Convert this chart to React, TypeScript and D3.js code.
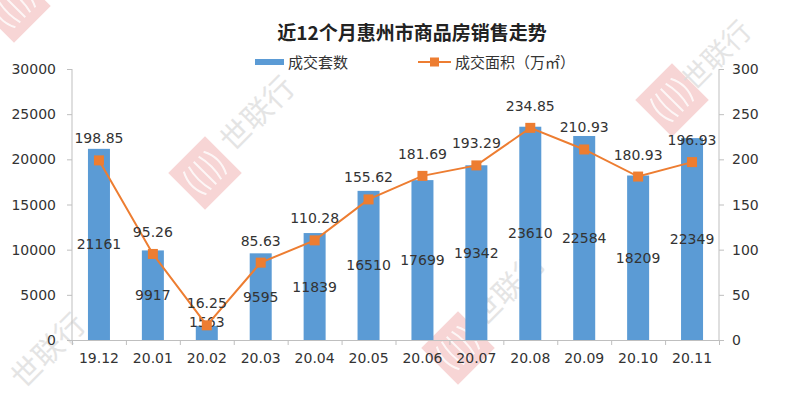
import React from "react";
import * as d3 from "d3";

const months = ["19.12","20.01","20.02","20.03","20.04","20.05","20.06","20.07","20.08","20.09","20.10","20.11"];
const counts = [21161, 9917, 1563, 9595, 11839, 16510, 17699, 19342, 23610, 22584, 18209, 22349];
const areas = [198.85, 95.26, 16.25, 85.63, 110.28, 155.62, 181.69, 193.29, 234.85, 210.93, 180.93, 196.93];
const leftTicks = [0, 5000, 10000, 15000, 20000, 25000, 30000];
const rightTicks = [0, 50, 100, 150, 200, 250, 300];
const title = "近12个月惠州市商品房销售走势";
const legendBar = "成交套数";
const legendLine = "成交面积（万㎡）";
const watermarkText = "世联行";

const W = 785, H = 399;
const L = 72, R = 719, T = 69, B = 340;
const FONT = "'DejaVu Sans', sans-serif";
const TXT = "#333";
const AX = "#bfbfbf";

function Diamond({ cx, cy }: { cx: number; cy: number }) {
  const s = 52;
  return (
    <g>
      <g transform={`translate(${cx},${cy}) rotate(45)`}>
        <rect x={-s / 2} y={-s / 2} width={s} height={s} fill="#f3c3c3" opacity={0.7} />
      </g>
      <g transform={`translate(${cx},${cy}) rotate(-45)`} opacity={0.8}>
        {[-14, -7, 0, 7, 14].map((o, i) => (
          <path key={i} d={`M ${o} -16 Q ${o * 1.6} 0 ${o} 16`} stroke="#fff" strokeWidth={2} fill="none" />
        ))}
      </g>
    </g>
  );
}

function WText({ x, y, size = 30 }: { x: number; y: number; size?: number }) {
  return (
    <text transform={`translate(${x},${y}) rotate(-45)`} fontSize={size} fill="#dcdcdc" fontFamily="'Noto Sans CJK SC', sans-serif" opacity={0.75}>{watermarkText}</text>
  );
}

export default function App() {
  const x = d3.scaleBand<string>().domain(months).range([L, R]).paddingInner(0).paddingOuter(0);
  const yL = d3.scaleLinear().domain([0, 30000]).range([B, T]);
  const yR = d3.scaleLinear().domain([0, 300]).range([B, T]);
  const bw = 22;
  const cxOf = (m: string) => (x(m) as number) + x.bandwidth() / 2;
  const line = d3.line<number>().x((_, i) => cxOf(months[i])).y((d) => yR(d));

  return (
    <svg width={W} height={H} style={{ position: "absolute", left: 0, top: 0, background: "#fff" }}>
      <Diamond cx={14} cy={6} />
      <Diamond cx={205} cy={173} />
      <WText x={233} y={153} />
      <Diamond cx={458} cy={348} />
      <WText x={484} y={328} />
      <Diamond cx={672} cy={100} />
      <WText x={694} y={92} size={28} />
      <WText x={24} y={390} />

      <text x={412} y={40} textAnchor="middle" fontSize={19} fontWeight="bold" fill="#222" fontFamily="'Noto Sans CJK SC', sans-serif">{title}</text>

      {/* legend */}
      <rect x={255} y={59} width={29} height={6} fill="#5b9bd5" />
      <text x={288} y={68} fontSize={15} fill={TXT} fontFamily="'Noto Sans CJK SC', sans-serif">{legendBar}</text>
      <line x1={418} x2={451} y1={62} y2={62} stroke="#ed7d31" strokeWidth={2} />
      <rect x={430} y={57.5} width={9} height={9} fill="#ed7d31" />
      <text x={455} y={68} fontSize={15} fill={TXT} fontFamily="'Noto Sans CJK SC', sans-serif">{legendLine}</text>

      {/* bars */}
      {counts.map((c, i) => (
        <rect key={i} x={cxOf(months[i]) - bw / 2} y={yL(c)} width={bw} height={B - yL(c)} fill="#5b9bd5" />
      ))}

      {/* axes */}
      <line x1={L} x2={L} y1={T} y2={B} stroke={AX} />
      <line x1={R} x2={R} y1={T} y2={B} stroke={AX} />
      <line x1={L - 5} x2={R + 5} y1={B + 0.5} y2={B + 0.5} stroke={AX} />
      {leftTicks.map((t) => (
        <g key={t}>
          <line x1={L - 5} x2={L} y1={yL(t) + 0.5} y2={yL(t) + 0.5} stroke={AX} />
          <text x={56} y={yL(t) + 5} textAnchor="end" fontSize={14} fill={TXT} fontFamily={FONT}>{t}</text>
        </g>
      ))}
      {rightTicks.map((t) => (
        <g key={t}>
          <line x1={R} x2={R + 5} y1={yR(t) + 0.5} y2={yR(t) + 0.5} stroke={AX} />
          <text x={732} y={yR(t) + 5} textAnchor="start" fontSize={14} fill={TXT} fontFamily={FONT}>{t}</text>
        </g>
      ))}
      {months.map((m) => (
        <g key={m}>
          <line x1={(x(m) as number) + 0.5} x2={(x(m) as number) + 0.5} y1={B} y2={B + 5} stroke={AX} />
          <text x={cxOf(m)} y={363} textAnchor="middle" fontSize={14} fill={TXT} fontFamily={FONT}>{m}</text>
        </g>
      ))}
      <line x1={R + 0.5} x2={R + 0.5} y1={B} y2={B + 5} stroke={AX} />

      {/* count labels */}
      {counts.map((c, i) => {
        const mid = (yL(c) + B) / 2;
        const yy = Math.min(mid, B - 18);
        return (
          <text key={i} x={cxOf(months[i])} y={yy + 5} textAnchor="middle" fontSize={14} fill={TXT} fontFamily={FONT}>{c}</text>
        );
      })}

      {/* line */}
      <path d={line(areas) || ""} fill="none" stroke="#ed7d31" strokeWidth={2} />
      {areas.map((a, i) => (
        <rect key={i} x={cxOf(months[i]) - 5} y={yR(a) - 5} width={10} height={10} fill="#ed7d31" />
      ))}
      {areas.map((a, i) => (
        <text key={i} x={cxOf(months[i])} y={yR(a) - 17} textAnchor="middle" fontSize={14} fill={TXT} fontFamily={FONT}>{a.toFixed(2)}</text>
      ))}
    </svg>
  );
}
